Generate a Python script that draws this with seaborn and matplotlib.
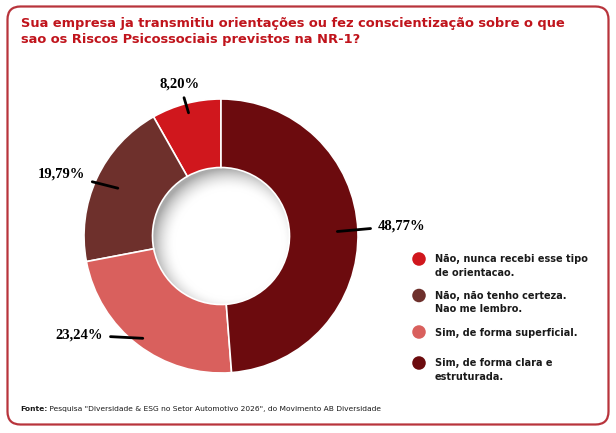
import matplotlib.pyplot as plt
import numpy as np
import seaborn as sns
from matplotlib.patches import Circle, FancyBboxPatch

sns.set_theme(style='white')
plt.rcParams['font.family'] = ['DejaVu Sans']

# dados da pesquisa
respostas = ['Não, nunca recebi esse tipo\nde orientacao.',
             'Não, não tenho certeza.\nNao me lembro.',
             'Sim, de forma superficial.',
             'Sim, de forma clara e\nestruturada.']
percentuais = [8.20, 19.79, 23.24, 48.77]
rotulos = ['8,20%', '19,79%', '23,24%', '48,77%']
cores = ['#d0171d', '#6e302c', '#d9605d', '#6c0b0e']

titulo = ['Sua empresa ja transmitiu orientações ou fez conscientização sobre o que',
          'sao os Riscos Psicossociais previstos na NR-1?']
fonte = ' Pesquisa "Diversidade & ESG no Setor Automotivo 2026", do Movimento AB Diversidade'

paleta = sns.color_palette(cores)

fig = plt.figure(figsize=(6.16, 4.33), dpi=100)
fig.patch.set_facecolor('white')
renderer = fig.canvas.get_renderer()


def ajusta(txt, largura):
    # escala a fonte para a largura desejada (em pixels)
    w = txt.get_window_extent(renderer).width
    txt.set_fontsize(txt.get_fontsize() * largura / w)


# camada de fundo em pixels (moldura, titulo, legenda, fonte)
bg = fig.add_axes([0, 0, 1, 1])
bg.set_xlim(0, 616)
bg.set_ylim(433, 0)
bg.axis('off')
bg.add_patch(FancyBboxPatch((7.5, 6.5), 601, 418, boxstyle='round,pad=0,rounding_size=13',
                            fc='white', ec='#b8343c', lw=1.6))

tit = []
for i, linha in enumerate(titulo):
    tit.append(bg.text(21, 26.5 + i * 16.5, linha, color='#c0141c', fontsize=9.5,
                       fontweight='bold', va='baseline', ha='left'))
ajusta(tit[0], 553)
tit[1].set_fontsize(tit[0].get_fontsize())

# legenda
leg_y = [259, 295.5, 332, 363]
leg_txt = []
for y, txt, c in zip(leg_y, respostas, paleta):
    bg.scatter([419], [y], s=95, color=c, edgecolor='none')
    for j, linha in enumerate(txt.split('\n')):
        leg_txt.append(bg.text(435, y + 3.5 + j * 13.4, linha, fontsize=7, fontweight='bold',
                               color='#1a1a1a', va='baseline', ha='left'))
ajusta(leg_txt[0], 153)
for lt in leg_txt[1:]:
    lt.set_fontsize(leg_txt[0].get_fontsize())

t = bg.text(20, 411, 'Fonte:', fontsize=5.5, fontweight='bold', color='#1a1a1a',
            va='baseline', ha='left')
t2 = bg.annotate(fonte, xy=(1, 0), xycoords=t, fontsize=5.5, color='#1a1a1a',
                 va='bottom', ha='left')
w_tot = t.get_window_extent(renderer).width + t2.get_window_extent(renderer).width
fs = 5.5 * 362 / w_tot
t.set_fontsize(fs)
t2.set_fontsize(fs)

# rosca
R_PX = 137
ax = fig.add_axes([(221 - 1.25 * R_PX) / 616, (197 - 1.25 * R_PX) / 433,
                   2.5 * R_PX / 616, 2.5 * R_PX / 433])
wedges, _ = ax.pie(percentuais, colors=paleta, startangle=90, counterclock=True, radius=1,
                   wedgeprops=dict(width=0.5, edgecolor='white', linewidth=1.2))

# sombra interna do furo
g = np.linspace(-0.5, 0.5, 300)
X, Y = np.meshgrid(g, g)
d = np.hypot(X - 0.05, Y + 0.06)
s = np.clip((d - 0.39) / 0.16, 0, 1) ** 1.8
rgb = np.dstack([1 - 0.33 * s] * 3)
im = ax.imshow(rgb, extent=(-0.5, 0.5, -0.5, 0.5), origin='lower', interpolation='bilinear')
im.set_clip_path(Circle((0, 0), 0.5, transform=ax.transData))

# rotulos com linhas de chamada
pos_txt = [(-0.30, 1.11), (-0.993, 0.453), (-0.861, -0.723), (1.146, 0.075)]
raios = [0.93, 0.83, 0.94, 0.85]
alinh = ['center', 'right', 'right', 'left']
inicio = 90 + 3.6 * np.concatenate([[0], np.cumsum(percentuais)[:-1]])
for k, (rot, val) in enumerate(zip(rotulos, percentuais)):
    ang = np.deg2rad(inicio[k] + 1.8 * val)
    xy = (raios[k] * np.cos(ang), raios[k] * np.sin(ang))
    ax.annotate(rot, xy=xy, xytext=pos_txt[k], textcoords='data', ha=alinh[k], va='center',
                fontsize=10.5, fontweight='bold', family='Liberation Serif', color='black',
                arrowprops=dict(arrowstyle='-', color='black', lw=2, shrinkA=3, shrinkB=0))

ax.set_xlim(-1.25, 1.25)
ax.set_ylim(-1.25, 1.25)
ax.axis('off')

fig.savefig('out.png', dpi=100)
